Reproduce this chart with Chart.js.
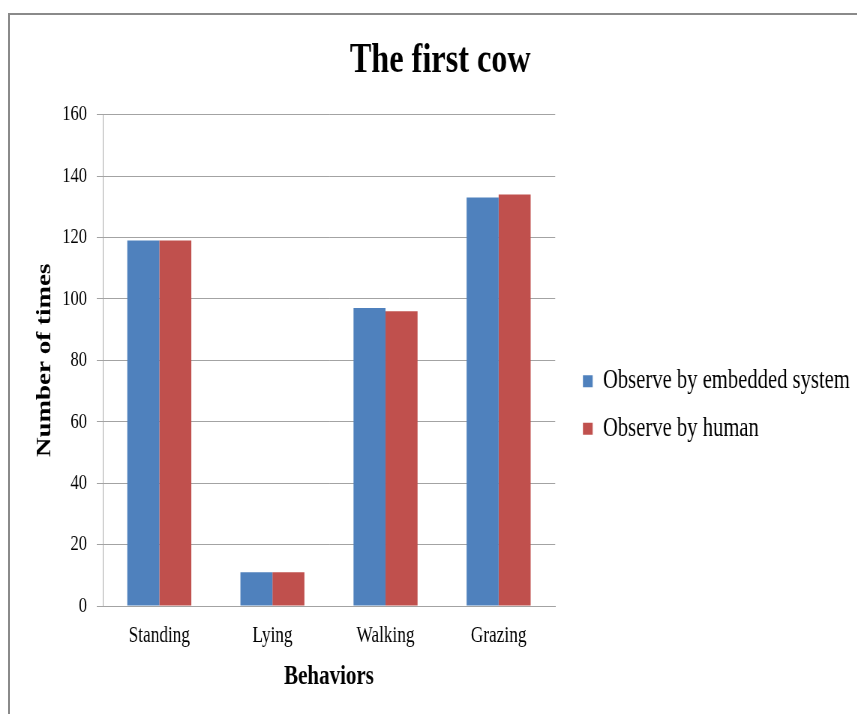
<!DOCTYPE html>
<html>
<head>
<meta charset="utf-8">
<script src="https://cdn.jsdelivr.net/npm/chart.js@4/dist/chart.umd.min.js"></script>
<style>
  html, body { margin: 0; padding: 0; background: #fff; overflow: hidden; }
  #frame {
    position: absolute; left: 8px; top: 13px; width: 900px; height: 760px;
    border-top: 2px solid #8a8a8a; border-left: 2px solid #8a8a8a;
  }
  /* the chart is laid out on a wider canvas and squeezed to give narrow type */
  #wrap {
    position: absolute; left: 0; top: 0; width: 1143px; height: 714px;
    transform: scaleX(0.75); transform-origin: 0 0;
  }
</style>
</head>
<body>
<div id="frame"></div>
<div id="wrap"><canvas id="c" width="1143" height="714"></canvas></div>
<script>
const behaviors = ['Standing', 'Lying', 'Walking', 'Grazing'];
const embeddedCounts = [119, 11, 97, 133];
const humanCounts = [119, 11, 96, 134];
const yTickValues = [0, 20, 40, 60, 80, 100, 120, 140, 160];

const serif = "'Liberation Serif', 'Times New Roman', serif";
const gridGray = '#a3a3a3';

// places the legend in the right-hand gap and centres the title over the page
const placeBlocks = {
  id: 'placeBlocks',
  afterLayout(chart) {
    const lg = chart.legend;
    if (lg) {
      const dx = 17, dy = 51;
      lg.left += dx;
      lg.right = chart.width;
      lg.width = lg.right - lg.left;
      lg.top += dy; lg.bottom += dy;
    }
    const tb = chart.titleBlock;
    if (tb) {
      tb.left = 0;
      tb.right = 1174;
      tb.width = tb.right - tb.left;
    }
  }
};

new Chart(document.getElementById('c'), {
  type: 'bar',
  data: {
    labels: behaviors,
    datasets: [
      { label: 'Observe by embedded system', data: embeddedCounts, backgroundColor: '#4f81bd' },
      { label: 'Observe by human', data: humanCounts, backgroundColor: '#c0504d' }
    ]
  },
  options: {
    responsive: false,
    animation: false,
    devicePixelRatio: 1,
    layout: { padding: { left: 0, right: 156, top: 0, bottom: 6 } },
    datasets: { bar: { categoryPercentage: 0.566, barPercentage: 1.0 } },
    plugins: {
      title: {
        display: true,
        text: 'The first cow',
        color: '#000',
        font: { family: serif, size: 43, weight: 'bold' },
        padding: { top: 35, bottom: 28 }
      },
      legend: {
        position: 'right',
        align: 'center',
        labels: {
          color: '#000',
          font: { family: serif, size: 27.5 },
          boxWidth: 13,
          boxHeight: 12,
          padding: 20
        }
      },
      tooltip: { enabled: false }
    },
    scales: {
      x: {
        afterFit(scale) { scale.height = 102; },
        grid: { display: false },
        border: { display: true, color: gridGray, width: 1 },
        ticks: { color: '#000', font: { family: serif, size: 23 }, padding: 8 },
        title: {
          display: true, text: 'Behaviors', color: '#000',
          font: { family: serif, size: 28, weight: 'bold' },
          padding: { top: 0, bottom: 14 }
        }
      },
      y: {
        min: 0,
        max: 160,
        afterBuildTicks(scale) { scale.ticks = yTickValues.map(v => ({ value: v })); },
        afterFit(scale) { scale.width = 137; },
        grid: { color: gridGray, lineWidth: 1, drawTicks: true, tickLength: 8 },
        border: { display: true, color: gridGray, width: 1 },
        ticks: { color: '#000', font: { family: serif, size: 22 }, padding: 13 },
        title: {
          display: true, text: 'Number of times', color: '#000',
          font: { family: serif, size: 27, weight: 'bold' },
          padding: { top: 44, bottom: 0 }
        }
      }
    }
  },
  plugins: [placeBlocks]
});
</script>
</body>
</html>
